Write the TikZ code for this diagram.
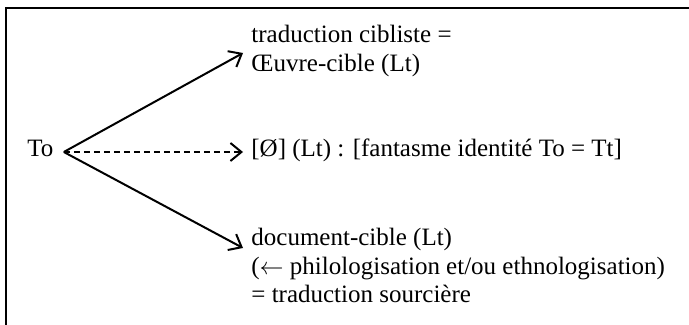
\documentclass[tikz,border=0pt]{standalone}
\usepackage{fontspec}
\setmainfont{Liberation Serif}
\usetikzlibrary{arrows.meta,calc}
\tikzset{
  txt/.style={anchor=base west, inner sep=0pt, font=\fontsize{12.5}{14.25}\selectfont},
  link/.style={line width=1pt, -{Straight Barb[length=5.5pt,width=9pt,line width=1pt]}},
  dashlink/.style={link, dash pattern=on 3pt off 2pt},
  frame/.style={line width=1pt}
}
\begin{document}
\begin{tikzpicture}[x=0.5pt,y=-0.5pt]
  \useasboundingbox (0,0) rectangle (689,325);
  % open frame: only the top and left rules show
  \draw[frame] (6,325) -- (6,8) -- (689,8);

  % source text
  \node[txt] (to) at (27,157) {To};

  % target-oriented branch
  \node[txt] (cib1) at (251,43) {traduction cibliste =};
  \node[txt] (cib2) at (251,72) {Œuvre-cible (Lt)};

  % identity branch
  \node[txt] (nul) at (251,157) {[Ø] (Lt) : [fantasme identité To = Tt]};

  % source-oriented branch
  \node[txt] (doc1) at (251,246) {document-cible (Lt)};
  \node[txt] (doc2) at (251,274) {($\leftarrow$ philologisation et/ou ethnologisation)};
  \node[txt] (doc3) at (251,302) {= traduction sourcière};

  \coordinate (src) at ($(to.base east)+(10,-5)$);

  \draw[link] (src) -- ($(cib2.base west)+(-8,-19)$);
  \draw[dashlink] (src) -- ($(nul.base west)+(-8,-5)$);
  \draw[link] (src) -- ($(doc1.base west)+(-8,2)$);
\end{tikzpicture}
\end{document}
